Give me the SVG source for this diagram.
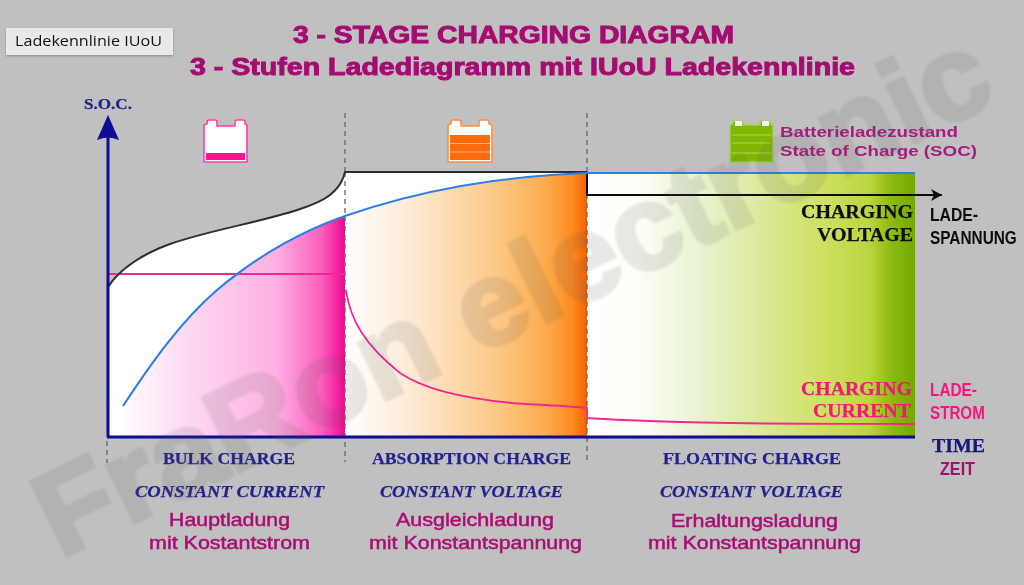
<svg xmlns="http://www.w3.org/2000/svg" width="1024" height="585" viewBox="0 0 1024 585">
<style>
text{font-family:"Liberation Sans",Arial,sans-serif}
.t{font-weight:700;fill:#a4086f;font-size:23px;stroke:#a4086f;stroke-width:.9}
.de{fill:#a80a72;font-size:18px;font-weight:400;stroke:#a80a72;stroke-width:.45}
.en{font-family:"Liberation Serif","Times New Roman",serif;font-weight:700;fill:#24248f;font-size:17px;stroke:#24248f;stroke-width:.25}
.it{font-style:italic}
.bk{font-family:"Liberation Serif","Times New Roman",serif;font-weight:700;fill:#111;font-size:19px;stroke:#111;stroke-width:.25}
.pk{font-family:"Liberation Serif","Times New Roman",serif;font-weight:700;fill:#f4157f;font-size:19px;stroke:#f4157f;stroke-width:.25}
.n{font-weight:700;font-size:19px}
.dash{stroke:#666;stroke-width:1.3;stroke-dasharray:5 4;fill:none}
.bat{stroke-width:1.6;stroke-linejoin:round}
.wm{font-weight:700;font-size:119px;fill:#555;stroke:#555;stroke-width:4;opacity:.13}
</style>
<defs>
<linearGradient id="gp" gradientUnits="userSpaceOnUse" x1="118" y1="0" x2="345" y2="0">
<stop offset="0" stop-color="#fff"/><stop offset=".35" stop-color="#fdd4f1"/><stop offset=".7" stop-color="#fdb0e2"/><stop offset=".9" stop-color="#fb5cbc"/><stop offset="1" stop-color="#f0058f"/></linearGradient>
<linearGradient id="go" gradientUnits="userSpaceOnUse" x1="345" y1="0" x2="587" y2="0">
<stop offset="0" stop-color="#fff"/><stop offset=".3" stop-color="#fde8d0"/><stop offset=".65" stop-color="#fcc680"/><stop offset=".83" stop-color="#fbab4c"/><stop offset=".94" stop-color="#fd8a20"/><stop offset="1" stop-color="#f56000"/></linearGradient>
<linearGradient id="gg" gradientUnits="userSpaceOnUse" x1="587" y1="0" x2="915" y2="0">
<stop offset="0" stop-color="#fff"/><stop offset=".15" stop-color="#fdfef8"/><stop offset=".35" stop-color="#e8f2cf"/><stop offset=".72" stop-color="#cfe062"/><stop offset=".86" stop-color="#bcd640"/><stop offset=".93" stop-color="#8cb90e"/><stop offset="1" stop-color="#74a800"/></linearGradient>
<filter id="soft" x="-5%" y="-5%" width="110%" height="110%"><feGaussianBlur stdDeviation=".35"/></filter>
<filter id="wb" x="-5%" y="-5%" width="110%" height="110%"><feGaussianBlur stdDeviation="1"/></filter>
<filter id="sh" x="-5%" y="-10%" width="110%" height="130%"><feDropShadow dx="0" dy="1" stdDeviation="1" flood-color="#000" flood-opacity=".3"/></filter>
<marker id="ah" markerUnits="userSpaceOnUse" markerWidth="12" markerHeight="12" refX="11" refY="6" orient="auto"><path d="M0 0L11 6L0 12L3 6Z" fill="#111"/></marker>
</defs>
<rect width="1024" height="585" fill="#c0c0c0"/>
<g filter="url(#soft)">
<g id="chart-fills">
<path d="M108 287C120 268 145 253 170 244C210 230 262 222 300 209C325 201 340 192 345 172V437H108Z" fill="#fff"/>
<path d="M123 406C150 365 180 322 217 290C255 258 300 232 345 216V437H108V425Z" fill="url(#gp)"/>
<rect x="345" y="172" width="242" height="265" fill="url(#go)"/>
<path d="M345 172H587V173C500 175 420 192 345 216Z" fill="#fff"/>
<rect x="587" y="173" width="328" height="264" fill="url(#gg)"/>
</g>
<g id="connectors" fill="none">
<path class="dash" d="M345 113V172M345 172V462M587 113V462M107 441V463"/>
<path d="M108 274H345" stroke="#f4268f" stroke-width="1.8"/>
<path d="M108 287C120 268 145 253 170 244C210 230 262 222 300 209C325 201 340 192 345 172H587" stroke="#2f2f2f" stroke-width="2"/>
<path d="M587 173V195H942" stroke="#111" stroke-width="2" marker-end="url(#ah)"/>
<path d="M123 406C150 365 180 322 217 290C255 258 300 232 345 216C420 190 500 176 587 173H915" stroke="#2f7fe6" stroke-width="2.2"/>
<path d="M346 290C350 320 365 345 400 373C425 390 470 399 512 403C540 405 570 406 587 408V418C650 422 720 424 915 424" stroke="#f5288e" stroke-width="1.8"/>
<path d="M108 437V130" stroke="#0a0a96" stroke-width="3"/>
<path d="M108 115L119 140Q108 135 97 140Z" fill="#0a0a96"/>
<path d="M107 437H915" stroke="#0a0a96" stroke-width="3"/>
</g>
<g id="battery-bulk" class="bat">
<path d="M204 126Q204 124 207 124V122Q207 120 209 120H215Q217 120 217 122V126H235V122Q235 120 237 120H243Q245 120 245 122V124Q247 124 247 126V162H204Z" fill="#fff" stroke="#fb3fa6"/>
<rect x="206" y="153" width="39" height="7" fill="#f81890"/>
</g>
<g id="battery-absorption" class="bat">
<path d="M448 126Q448 124 451 124V122Q451 120 453 120H459Q461 120 461 122V126H479V122Q479 120 481 120H487Q489 120 489 122V124Q492 124 492 126V162H448Z" fill="#fff" stroke="#fb9040"/>
<rect x="450" y="135" width="40" height="25" fill="#fb6a0a"/>
<path d="M450 143.500H490M450 152H490" stroke="#fbb070" stroke-width="1"/>
</g>
<g id="battery-float" class="bat">
<path d="M730 126Q730 124 733 124V121H743V125H760V121H770V124Q773 124 773 126V162H730Z" fill="#7fb800" stroke="#a8cf50"/>
<path d="M732 135H771M732 143H771M732 153H771" stroke="#b3d46a" stroke-width="1"/>
<rect x="735" y="121" width="7" height="5" fill="#f2f2f2" stroke="none"/>
<rect x="762" y="121" width="7" height="5" fill="#f2f2f2" stroke="none"/>
</g>
<g id="labels">
<text class="t" x="293" y="43" textLength="441" lengthAdjust="spacingAndGlyphs">3 - STAGE CHARGING DIAGRAM</text>
<text class="t" x="190" y="75" textLength="665" lengthAdjust="spacingAndGlyphs">3 - Stufen Ladediagramm mit IUoU Ladekennlinie</text>
<text class="en" x="84" y="109" textLength="48" lengthAdjust="spacingAndGlyphs" style="font-size:15px">S.O.C.</text>
<text class="n" style="font-size:15.5px;fill:#a81a80" x="780" y="137" textLength="178" lengthAdjust="spacingAndGlyphs">Batterieladezustand</text>
<text class="n" style="font-size:15.5px;fill:#a81a80" x="780" y="156" textLength="197" lengthAdjust="spacingAndGlyphs">State of Charge (SOC)</text>
<text class="bk" x="801" y="218" textLength="112" lengthAdjust="spacingAndGlyphs">CHARGING</text>
<text class="bk" x="817" y="241" textLength="96" lengthAdjust="spacingAndGlyphs">VOLTAGE</text>
<text class="n" style="fill:#111" transform="translate(930 221) scale(.83 1)">LADE-</text>
<text class="n" style="fill:#111" transform="translate(930 244) scale(.81 1)">SPANNUNG</text>
<text class="pk" x="801" y="395" textLength="111" lengthAdjust="spacingAndGlyphs">CHARGING</text>
<text class="pk" x="813" y="417" textLength="98" lengthAdjust="spacingAndGlyphs">CURRENT</text>
<text class="n" style="fill:#f4157f" transform="translate(930 396) scale(.81 1)">LADE-</text>
<text class="n" style="fill:#f4157f" transform="translate(930 419) scale(.8 1)">STROM</text>
<text class="en" style="fill:#14147f;stroke:#14147f;font-size:19px" x="932" y="452" textLength="53" lengthAdjust="spacingAndGlyphs">TIME</text>
<text class="n" style="fill:#a80a72" transform="translate(940 475) scale(.85 1)">ZEIT</text>
<text class="en" x="163" y="464" textLength="132" lengthAdjust="spacingAndGlyphs">BULK CHARGE</text>
<text class="en it" x="135" y="497" textLength="189" lengthAdjust="spacingAndGlyphs">CONSTANT CURRENT</text>
<text class="de" x="169" y="526" textLength="121" lengthAdjust="spacingAndGlyphs">Hauptladung</text>
<text class="de" x="149" y="549" textLength="161" lengthAdjust="spacingAndGlyphs">mit Kostantstrom</text>
<text class="en" x="372" y="464" textLength="199" lengthAdjust="spacingAndGlyphs">ABSORPTION CHARGE</text>
<text class="en it" x="380" y="497" textLength="183" lengthAdjust="spacingAndGlyphs">CONSTANT VOLTAGE</text>
<text class="de" x="396" y="526" textLength="158" lengthAdjust="spacingAndGlyphs">Ausgleichladung</text>
<text class="de" x="369" y="549" textLength="213" lengthAdjust="spacingAndGlyphs">mit Konstantspannung</text>
<text class="en" x="663" y="464" textLength="178" lengthAdjust="spacingAndGlyphs">FLOATING CHARGE</text>
<text class="en it" x="660" y="497" textLength="183" lengthAdjust="spacingAndGlyphs">CONSTANT VOLTAGE</text>
<text class="de" x="671" y="527" textLength="167" lengthAdjust="spacingAndGlyphs">Erhaltungsladung</text>
<text class="de" x="648" y="549" textLength="213" lengthAdjust="spacingAndGlyphs">mit Konstantspannung</text>
</g>
</g>
<text id="watermark" class="wm" filter="url(#wb)" transform="translate(60 559) rotate(-26)" textLength="1045" lengthAdjust="spacingAndGlyphs">FraRon electronic</text>
<g id="tooltip">
<rect x="6" y="28" width="167" height="27" fill="#e9e9e9" filter="url(#sh)"/>
<text x="15" y="46" textLength="147" lengthAdjust="spacingAndGlyphs" style="font-family:'Open Sans',sans-serif;font-size:14px;fill:#111">Ladekennlinie IUoU</text>
</g>
</svg>
